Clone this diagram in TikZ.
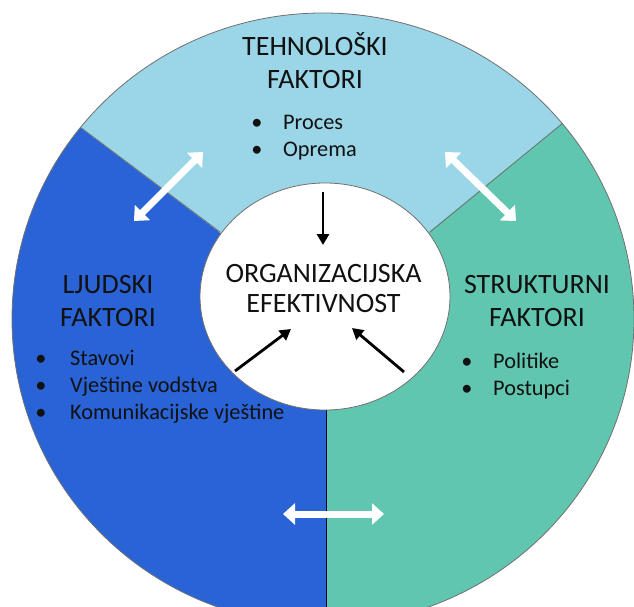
\documentclass[tikz,border=0pt]{standalone}
\usepackage{fontspec}
\setmainfont{Carlito}
\usetikzlibrary{arrows.meta}
\definecolor{techc}{HTML}{9AD6E7}
\definecolor{humc}{HTML}{2963D5}
\definecolor{strc}{HTML}{61C6B0}
\definecolor{edgec}{HTML}{707070}
\definecolor{txtc}{HTML}{111111}
\newcommand\myhead{\fontsize{28}{33}\selectfont}
\newcommand\mybody{\fontsize{22.3}{27}\selectfont}
\tikzset{
  headtxt/.style={anchor=base, inner sep=0pt, text=txtc, font=\myhead},
  bodytxt/.style={anchor=base west, inner sep=0pt, text=txtc, font=\mybody},
  bullettxt/.style={anchor=base, inner sep=0pt, text=txtc, font=\mybody},
  whitearrow/.style={draw=white, line width=7pt,
    {Triangle[length=12pt,width=21pt]}-{Triangle[length=12pt,width=21pt]}},
  blackarrow/.style={draw=black, line width=2.8pt, -{Triangle[length=11pt,width=12pt]}},
  divider/.style={draw=edgec, line width=0.8pt}
}
\begin{document}
\begin{tikzpicture}[x=1pt,y=-1pt]
\useasboundingbox (0,0) rectangle (634,607);
% key coordinates
\coordinate (C) at (323,319);
\coordinate (V) at (328,314);
\coordinate (LI) at (220,232);
\coordinate (LO) at (-20,52);
\coordinate (RI) at (430,232);
\coordinate (RO) at (680,27);
\coordinate (BI) at (326,410);
\coordinate (BO) at (326,700);
% sectors
\begin{scope}
  \clip (C) ellipse [x radius=311pt, y radius=306pt];
  \fill[techc] (V) -- (LO) -- (-20,-60) -- (700,-60) -- (RO) -- cycle;
  \fill[humc] (V) -- (LO) -- (-20,700) -- (BO) -- (326,314) -- cycle;
  \fill[strc] (V) -- (RO) -- (700,700) -- (BO) -- (326,314) -- cycle;
  \draw[divider] (LI) -- (LO);
  \draw[divider] (RI) -- (RO);
  \draw[draw=black!80!blue, line width=0.9pt] (BI) -- (BO);
\end{scope}
\draw[edgec, line width=0.8pt] (C) ellipse [x radius=311pt, y radius=306pt];
% inner circle
\fill[white, draw=edgec, line width=0.8pt] (325,296.5) ellipse [x radius=125pt, y radius=113.5pt];
% texts
\node[headtxt] (t1) at (315,56) {TEHNOLOŠKI};
\node[headtxt] (t2) at (315,89) {FAKTORI};
\node[bullettxt] (tb1) at (257,130) {•};
\node[bodytxt] (tp1) at (283,130) {Proces};
\node[bullettxt] (tb2) at (257,157) {•};
\node[bodytxt] (tp2) at (283,157) {Oprema};
\node[headtxt] (l1) at (108,293) {LJUDSKI};
\node[headtxt] (l2) at (108,326) {FAKTORI};
\node[bullettxt] (lb1) at (41,365) {•};
\node[bodytxt] (lp1) at (70,365) {Stavovi};
\node[bullettxt] (lb2) at (41,392) {•};
\node[bodytxt] (lp2) at (70,392) {Vještine vodstva};
\node[bullettxt] (lb3) at (41,419) {•};
\node[bodytxt] (lp3) at (70,419) {Komunikacijske vještine};
\node[headtxt] (s1) at (537,293) {STRUKTURNI};
\node[headtxt] (s2) at (537,326) {FAKTORI};
\node[bullettxt] (sb1) at (467,368) {•};
\node[bodytxt] (sp1) at (493,368) {Politike};
\node[bullettxt] (sb2) at (467,395) {•};
\node[bodytxt] (sp2) at (493,395) {Postupci};
\node[headtxt] (o1) at (323.5,282) {ORGANIZACIJSKA};
\node[headtxt] (o2) at (323.5,312) {EFEKTIVNOST};
% arrows
\coordinate (a1s) at (323,192);
\coordinate (a1e) at (323,245);
\coordinate (a2s) at (235,371);
\coordinate (a2e) at (291,329);
\coordinate (a3s) at (404,372);
\coordinate (a3e) at (352,328);
\draw[blackarrow] (a1s) -- (a1e);
\draw[blackarrow] (a2s) -- (a2e);
\draw[blackarrow] (a3s) -- (a3e);
\coordinate (w1a) at (134,221);
\coordinate (w1b) at (203,152);
\coordinate (w2a) at (445,152);
\coordinate (w2b) at (516,221);
\coordinate (w3a) at (283,514);
\coordinate (w3b) at (384,514);
\draw[whitearrow] (w1a) -- (w1b);
\draw[whitearrow] (w2a) -- (w2b);
\draw[whitearrow] (w3a) -- (w3b);
\end{tikzpicture}
\end{document}
